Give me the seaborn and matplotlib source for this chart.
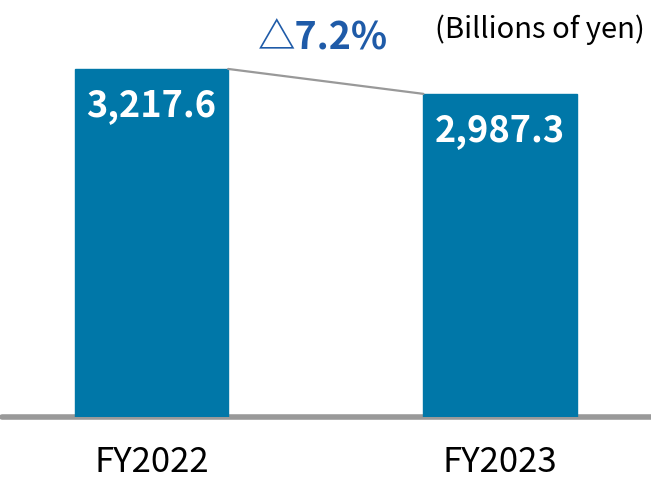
import matplotlib
matplotlib.use('Agg')
import matplotlib.pyplot as plt
import seaborn as sns
import pandas as pd

# 데이터
years = ['FY2022', 'FY2023']
revenue = [3217.6, 2987.3]
value_labels = ['3,217.6', '2,987.3']
change_label = '△7.2%'
unit_label = '(Billions of yen)'

bar_color = '#0077A8'
grey = '#999999'
bar_width = 0.44

sns.set_theme(style='white')
plt.rcParams['font.family'] = ['Noto Sans CJK JP', 'DejaVu Sans']

df = pd.DataFrame({'year': years, 'revenue': revenue})

fig = plt.figure(figsize=(6.51, 4.84), dpi=100)
ax = fig.add_axes([2 / 651, 67 / 484, 649 / 651, 417 / 484])

sns.barplot(data=df, x='year', y='revenue', color=bar_color, width=bar_width,
            saturation=1, edgecolor=bar_color, ax=ax)

# 막대 사이 연결선
ax.plot([0 + bar_width / 2, 1 - bar_width / 2], revenue, color=grey, lw=1.6, zorder=1)

# 값 라벨
for i, (v, lab) in enumerate(zip(revenue, value_labels)):
    ax.text(i, v - 340, lab, ha='center', va='center', color='white',
            fontsize=26, fontweight='bold')

ax.set_xlim(-0.429, 1.433)
ax.set_ylim(0, 3855)

# 기준선
ax.axhline(0, color=grey, lw=4, zorder=0, clip_on=False)

for s in ax.spines.values():
    s.set_visible(False)
ax.set_yticks([])
ax.set_xlabel('')
ax.set_ylabel('')
ax.tick_params(axis='x', length=0, pad=20, labelsize=25, labelcolor='black')

fig.text(323 / 651, 1 - 38 / 484, change_label, ha='center', va='center',
         color='#1F5BA8', fontsize=27, fontweight='bold')
fig.text(645 / 651, 1 - 30 / 484, unit_label, ha='right', va='center',
         color='black', fontsize=21)

fig.savefig('out.png', dpi=100)
